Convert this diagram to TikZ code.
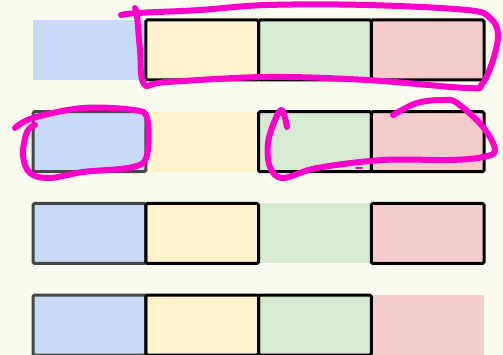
\documentclass[tikz,border=0pt]{standalone}
\usepackage[svgnames,dvipsnames]{xcolor}
\usepackage{tikz}
\usetikzlibrary{positioning}

\definecolor{paper}{HTML}{FAFAEF}
\definecolor{cblue}{HTML}{C9DAF8}
\definecolor{cyellow}{HTML}{FFF2CC}
\definecolor{cgreen}{HTML}{D9EAD3}
\definecolor{cred}{HTML}{F4CCCC}
\definecolor{marker}{HTML}{FF00CC}

\begin{document}
\begin{tikzpicture}[
    node distance=0pt,
    cell/.style={rectangle, minimum width=112.75pt, minimum height=60pt, inner sep=0pt, outer sep=0pt},
    boxed/.style={draw=black, line width=3pt, rounded corners=1.5pt},
    boxedgray/.style={draw=black!72, line width=3pt, rounded corners=1.5pt},
    scribble/.style={draw=marker, line width=6pt, line cap=round, line join=round}
]
    \path[use as bounding box, fill=paper] (0,0) rectangle (503pt,-355pt);

    % the four rows of cells
    \node (b1) [cell, fill=cblue, anchor=north west] at (33pt,-20pt) {};
    \node (y1) [cell, fill=cyellow, right=of b1] {};
    \node (g1) [cell, fill=cgreen, right=of y1] {};
    \node (r1) [cell, fill=cred, right=of g1] {};

    \node (b2) [cell, fill=cblue, below=31.7pt of b1] {};
    \node (y2) [cell, fill=cyellow, right=of b2] {};
    \node (g2) [cell, fill=cgreen, right=of y2] {};
    \node (r2) [cell, fill=cred, right=of g2] {};

    \node (b3) [cell, fill=cblue, below=31.7pt of b2] {};
    \node (y3) [cell, fill=cyellow, right=of b3] {};
    \node (g3) [cell, fill=cgreen, right=of y3] {};
    \node (r3) [cell, fill=cred, right=of g3] {};

    \node (b4) [cell, fill=cblue, below=31.7pt of b3] {};
    \node (y4) [cell, fill=cyellow, right=of b4] {};
    \node (g4) [cell, fill=cgreen, right=of y4] {};
    \node (r4) [cell, fill=cred, right=of g4] {};

    % frames
    \draw[boxed] (y1.north west) rectangle (y1.south east);
    \draw[boxed] (g1.north west) rectangle (g1.south east);
    \draw[boxed] (r1.north west) rectangle (r1.south east);

    \draw[boxedgray] (b2.north west) rectangle (b2.south east);
    \draw[boxed] (g2.north west) rectangle (g2.south east);
    \draw[boxed] (r2.north west) rectangle (r2.south east);

    \draw[boxedgray] (b3.north west) rectangle (b3.south east);
    \draw[boxed] (y3.north west) rectangle (y3.south east);
    \draw[boxed] (r3.north west) rectangle (r3.south east);

    \draw[boxedgray] (b4.north west) rectangle (b4.south east);
    \draw[boxed] (y4.north west) rectangle (y4.south east);
    \draw[boxed] (g4.north west) rectangle (g4.south east);

    % hand-drawn marks
    \begin{scope}[x=1pt, y=-1pt]
        \draw[scribble] plot[smooth, tension=0.6] coordinates {(121,15) (138,13) (200,10) (267,5) (367,5) (467,10) (490,18) (498,34) (493,60) (482,84) (467,88) (367,80) (267,77) (167,82) (144,84) (140,50) (137,16) (135,8)};
        \draw[scribble] plot[smooth, tension=0.6] coordinates {(15,128) (33,118) (83,108) (133,110) (147,118) (147,155) (133,167) (83,172) (50,178) (30,173) (23,155) (27,132) (35,125)};
        \draw[scribble] plot[smooth, tension=0.6] coordinates {(287,127) (282,110) (275,120) (268,143) (270,167) (283,178) (317,168) (383,160) (450,160) (483,157) (495,150) (483,127) (457,103) (443,100) (417,103) (393,115)};
        \draw[scribble, line width=2pt] (356,168) -- (362,168);
    \end{scope}
\end{tikzpicture}
\end{document}
